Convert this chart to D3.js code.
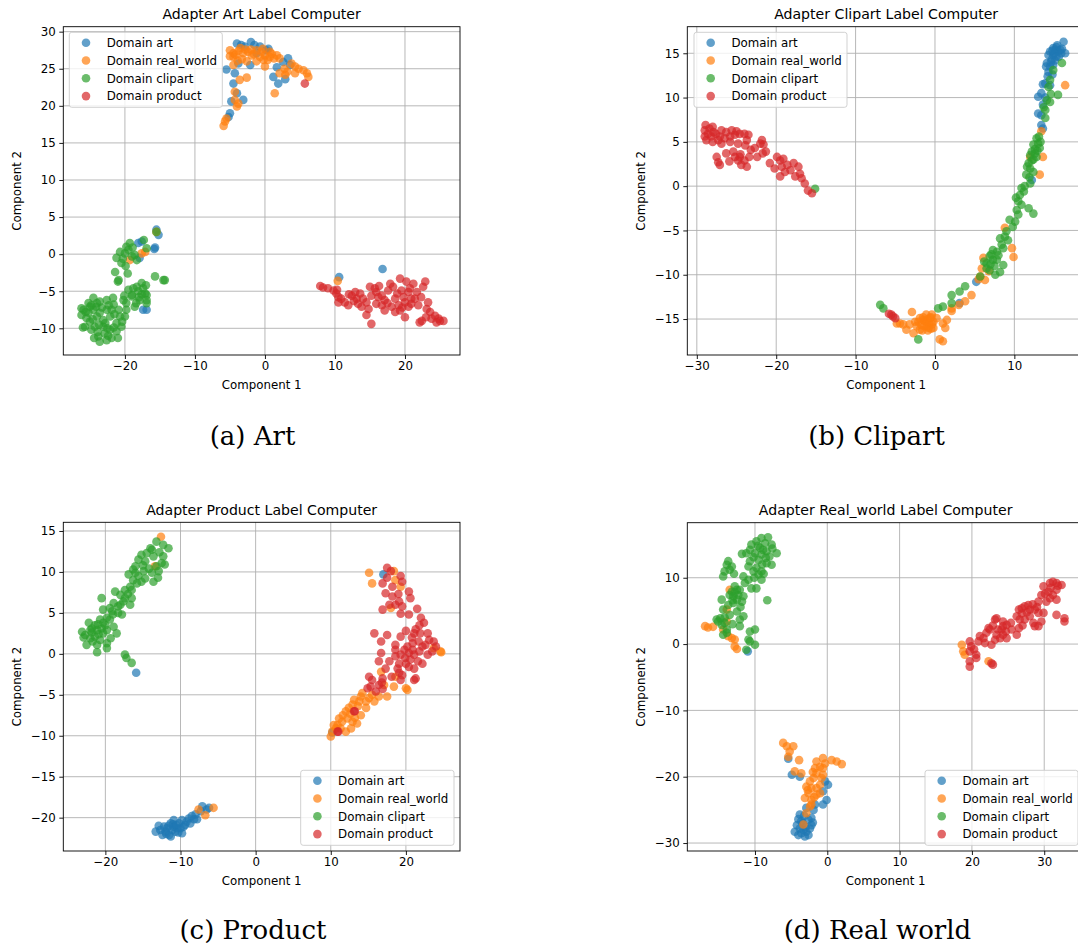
<!DOCTYPE html>
<html><head><meta charset="utf-8">
<script src="https://cdn.jsdelivr.net/npm/d3@7"></script>
<style>body{margin:0;background:#fff}svg{display:block}</style>
</head><body>
<svg id="fig" width="1078" height="949"></svg>
<script>
// ---------- DATA ----------
const domainNames = ["Domain art", "Domain real_world", "Domain clipart", "Domain product"];
const panelTitles = ["Adapter Art Label Computer", "Adapter Clipart Label Computer", "Adapter Product Label Computer", "Adapter Real_world Label Computer"];
const captions = ["(a) Art", "(b) Clipart", "(c) Product", "(d) Real world"];

const xTicksA = [-20, -10, 0, 10, 20];
const yTicksA = [30, 25, 20, 15, 10, 5, 0, -5, -10];
const xTicksB = [-30, -20, -10, 0, 10];
const yTicksB = [15, 10, 5, 0, -5, -10, -15];
const xTicksC = [-20, -10, 0, 10, 20];
const yTicksC = [15, 10, 5, 0, -5, -10, -15, -20];
const xTicksD = [-10, 0, 10, 20, 30];
const yTicksD = [10, 0, -10, -20, -30];

const xLimA = [-28.8, 27.86], yLimA = [-13.6, 30.67];
const xLimB = [-31.2, 18.9], yLimB = [-19.06, 18.0];
const xLimC = [-25.6, 27.2], yLimC = [-24.07, 16.06];
const xLimD = [-19.36, 35.5], yLimD = [-31.2, 18.3];

// Panel (a) Art
const A_art = [[-4.0,28.4],[-2.0,28.6],[-2.9,28.0],[-0.7,28.0],[0.5,27.7],[0.2,27.5],[-1.2,27.1],[-5.5,24.9],[-4.3,24.4],[-4.5,23.0],[-4.0,21.7],[-4.8,20.6],[-3.1,20.8],[-5.0,19.0],[-5.2,18.5],[-2.1,25.5],[-3.8,25.7],[1.2,23.9],[1.9,23.0],[2.9,23.6],[2.6,25.9],[3.6,25.5],[3.3,26.4],[-1.5,28.2],[-3.4,28.2],[1.7,25.2],
 [-15.5,3.3],[-15.2,2.6],[-17.6,1.7],[-18.1,1.5],[-15.7,0.9],[-15.8,0.7],[-17.9,-0.5],[-17.4,-7.5],[-16.9,-7.5],[10.6,-3.1],[16.8,-2.0]];
const A_rw = [[-5.0,27.5],[-4.5,27.1],[-3.8,27.4],[-3.1,27.1],[-2.4,27.3],[-1.9,26.8],[-4.5,26.6],[-3.3,26.3],[-5.0,26.7],[-1.2,27.5],[-0.5,27.3],[0.0,26.8],[0.7,26.6],[1.7,26.8],[2.1,26.4],[-1.2,26.0],[-0.2,26.2],[-2.6,26.0],[-4.5,25.5],[-3.6,23.5],[-2.6,23.8],[-4.3,21.9],[-4.3,20.8],[-3.8,20.3],[-4.0,19.9],[-5.5,18.3],[-5.7,17.9],[-5.9,17.3],[0.0,25.3],[2.1,24.4],[2.9,24.2],[4.3,24.4],[4.8,25.0],[5.5,24.8],[6.0,24.4],[6.2,23.9],[1.4,21.7],[0.7,27.3],[-0.7,26.6],[3.8,25.7],[4.3,25.3],[-3.5,27.8],[1.0,27.0],[-2.0,27.6],
 [-4.2,26.9],[-2.8,27.6],[-1.6,27.0],[0.4,26.2],[1.3,26.4],[-3.9,26.1],[-0.3,27.7],[2.8,25.0],[3.2,24.6],
 [-17.6,0.1],[-17.1,0.3],[-19.3,-0.8],[-15.5,3.0],[10.4,-3.6]];
const A_cl = [[-15.5,3.0],[-19.3,1.5],[-20.7,0.3],[-21.2,-0.5],[-20.0,0.1],[-19.5,0.6],[-19.0,-0.3],[-18.3,-0.8],[-20.5,-1.2],[-21.4,-2.4],[-20.9,-3.5],[-19.8,1.0],[-16.9,0.8],[-17.3,1.9],[-15.7,-3.0],[-14.5,-3.5],[-14.3,-3.5],[-17.6,-3.9],[-18.8,-4.6],[-18.1,-5.0],[-17.1,-5.3],[-19.0,-5.7],[-17.9,-6.2],[-16.9,-6.2],[-20.2,-6.2],[-21.7,-5.9],[-22.6,-6.2],[-23.6,-6.4],[-24.5,-5.9],[-25.2,-6.6],[-25.9,-7.5],[-26.2,-8.2],[-25.2,-7.9],[-24.5,-7.5],[-23.6,-7.9],[-22.6,-7.5],[-22.1,-8.4],[-23.1,-8.9],[-24.0,-8.4],[-25.0,-9.1],[-25.7,-9.8],[-24.8,-10.2],[-23.8,-11.1],[-22.9,-10.7],[-22.1,-10.2],[-21.2,-10.4],[-21.0,-11.3],[-20.5,-9.8],[-20.0,-8.4],[-19.8,-7.5],[-20.9,-7.5],[-21.2,-9.3],[-24.1,-7.1],[-20.7,-8.4],[-21.9,-7.5],[-18.6,-7.1],[-19.8,-6.6],[-18.3,-4.4],[-17.4,-4.6],[-16.9,-5.5],[-19.0,-5.5],[-19.5,-4.8],[-25.0,-7.1],[-26.2,-7.3],[-25.5,-8.6],[-24.3,-9.8],[-23.1,-9.8],[-21.9,-11.3],[-23.6,-11.8],[-22.6,-11.6],[-16.9,-6.6],[-21.0,-3.7],[-18.0,-5.8],[-24.0,-6.6],[-22.8,-9.3],[-26.0,-9.9],[-21.6,-6.8],
 [-24.8,-6.9],[-23.3,-7.2],[-22.3,-6.9],[-25.6,-7.8],[-24.6,-8.8],[-23.7,-9.5],[-22.5,-10.0],[-21.6,-9.9],[-20.4,-9.1],[-21.5,-8.1],[-23.9,-10.5],[-24.4,-11.3],[-22.4,-11.0],[-20.1,-5.6],[-18.4,-6.6],[-17.6,-5.4],[-18.6,-0.1],[-20.3,-0.6],[-19.9,-1.6],[-18.9,0.9],[-19.6,-2.6],[-17.0,-4.2]];
const A_pr = [[5.7,23.0],[7.9,-4.3],[8.3,-4.5],[9.0,-4.6],[9.8,-4.9],[10.2,-5.3],[10.5,-5.8],[10.5,-6.5],[10.9,-6.0],[11.9,-6.9],[12.4,-5.6],[12.9,-5.1],[13.1,-6.0],[13.3,-6.7],[13.6,-5.3],[14.0,-6.0],[14.5,-6.5],[14.8,-7.4],[14.5,-8.2],[15.2,-9.4],[15.2,-5.6],[15.7,-4.6],[15.9,-5.1],[16.2,-5.8],[15.9,-6.7],[16.7,-6.9],[17.1,-6.2],[17.1,-7.6],[17.9,-4.0],[18.3,-4.4],[18.1,-7.1],[18.6,-6.0],[19.1,-6.9],[19.3,-3.3],[19.5,-4.9],[19.3,-7.6],[19.8,-5.8],[20.0,-6.5],[20.0,-8.5],[20.2,-3.7],[20.5,-5.1],[20.7,-4.6],[20.9,-6.0],[20.9,-6.7],[21.4,-6.0],[22.6,-4.4],[22.9,-3.7],[23.1,-7.4],[23.3,-6.5],[23.6,-7.8],[23.8,-8.7],[22.4,-9.0],[22.1,-9.2],[24.3,-8.3],[24.8,-8.7],[25.0,-9.0],[25.5,-9.0],[24.5,-9.2],[20.5,-7.1],[17.6,-4.9],[11.4,-6.5],[15.0,-4.4],[16.7,-5.6],[18.6,-7.8],[21.7,-5.1],
 [12.0,-5.4],[13.8,-7.1],[17.5,-6.6],[18.9,-5.3],[21.9,-6.9],[22.3,-5.8],[19.6,-7.2],[16.3,-4.3],[23.0,-8.5],[12.7,-6.3],[10.3,-4.8],[21.2,-4.0]];

// Panel (b) Clipart
const B_art = [[16.2,16.3],[14.9,15.6],[15.3,15.7],[14.5,15.2],[15.5,15.2],[16.4,15.0],[14.9,14.8],[14.3,14.8],[15.1,14.2],[14.1,13.9],[14.5,13.5],[14.9,13.7],[14.3,12.9],[13.9,11.6],[14.5,11.4],[13.0,10.1],[13.4,10.5],[13.6,9.2],[13.0,8.2],[13.4,8.0],[13.4,6.9],[13.6,6.5],[12.2,0.7],[5.2,-10.8],[3.1,-13.2],[15.8,15.4],[15.0,15.0],[14.7,14.3],[15.6,14.6],[14.0,13.5],[13.9,10.0],[13.6,11.5],[15.2,15.4],[15.9,15.0],[14.6,14.0],
 [15.4,15.9],[14.8,15.3],[16.0,15.5],[15.3,14.6],[14.2,12.4],[14.8,12.6]];
const B_rw = [[16.4,11.4],[13.4,6.2],[13.6,3.3],[13.2,1.3],[12.0,3.3],[8.8,-4.7],[9.7,-7.0],[9.9,-8.0],[6.1,-8.1],[5.9,-9.3],[5.7,-10.2],[6.3,-10.6],[4.6,-12.3],[3.8,-13.0],[3.0,-13.4],[2.1,-13.8],[2.1,-14.1],[1.5,-15.1],[1.0,-15.5],[1.3,-16.0],[0.6,-17.3],[1.0,-17.5],[0.2,-14.9],[-0.2,-15.3],[-0.6,-14.9],[-1.1,-15.3],[-1.5,-15.1],[-1.3,-15.8],[-0.8,-16.0],[-0.4,-15.6],[-1.7,-15.7],[-2.1,-15.3],[-1.9,-16.2],[-2.5,-15.3],[-2.9,-14.2],[-3.2,-15.6],[-2.7,-16.6],[-3.6,-16.2],[-4.0,-15.6],[-4.4,-15.5],[-4.8,-15.5],[-1.1,-14.5],[-0.4,-14.5],[-0.9,-15.0],[-1.0,-15.8],[-0.7,-15.5],[-1.3,-15.2],[-0.5,-16.1],[-1.6,-16.3],[6.8,-9.6],[5.5,-10.5],
 [-0.5,-14.8],[-1.5,-14.8],[-0.9,-16.3],[-1.9,-14.9],[-0.2,-16.0],[-2.3,-15.8]];
const B_cl = [[16.0,13.9],[14.9,13.1],[14.5,12.0],[14.3,11.2],[15.5,10.3],[14.1,9.7],[14.5,9.5],[13.9,8.6],[13.9,7.7],[12.8,5.4],[13.0,4.8],[12.4,4.7],[13.2,4.3],[12.2,3.9],[12.8,3.3],[12.0,3.5],[12.4,3.0],[11.8,2.6],[12.0,2.0],[12.4,1.6],[11.5,1.3],[12.0,0.3],[10.9,-0.2],[11.3,0.0],[10.7,-1.0],[10.5,-1.7],[10.9,-2.1],[10.3,-2.7],[11.8,-2.5],[12.4,-3.1],[10.5,-3.2],[9.4,-3.8],[10.1,-4.0],[9.0,-5.1],[8.8,-5.7],[9.2,-6.1],[8.2,-5.9],[8.4,-6.6],[7.3,-7.2],[7.8,-7.4],[6.9,-7.9],[7.3,-8.3],[6.5,-8.7],[7.8,-8.3],[8.6,-8.9],[6.5,-9.3],[6.9,-9.5],[7.6,-10.0],[5.7,-10.2],[3.8,-11.3],[3.1,-11.9],[2.1,-12.3],[2.1,-13.2],[1.0,-13.6],[0.4,-13.8],[-2.1,-17.3],[-6.9,-13.4],[-6.5,-13.8],[-15.1,-0.3],[13.3,5.0],[12.9,4.0],[12.6,3.7],[11.6,2.2],[11.2,-0.6],[10.2,-1.3],[7.0,-8.8],[7.5,-9.0],[8.0,-7.8],
 [12.6,4.2],[13.1,5.6],[12.2,2.9],[11.9,1.0],[9.8,-4.6],[8.6,-7.0],[7.1,-7.7],[6.2,-8.5],[8.2,-9.7],[13.7,8.9],[14.6,10.4]];
const B_pr = [[-28.9,6.9],[-29.0,6.3],[-28.4,6.5],[-28.0,6.7],[-28.6,5.9],[-29.0,5.6],[-28.2,5.6],[-27.6,5.9],[-26.9,6.3],[-27.1,5.6],[-26.3,6.1],[-25.6,6.3],[-25.8,5.6],[-25.2,5.8],[-24.6,5.9],[-24.0,5.9],[-23.5,5.8],[-28.8,5.2],[-28.0,5.0],[-26.9,4.8],[-25.8,5.0],[-24.8,4.8],[-23.7,5.2],[-21.8,5.2],[-22.0,4.8],[-27.5,3.3],[-27.3,2.7],[-27.1,2.4],[-26.3,3.7],[-25.4,3.9],[-25.2,3.3],[-24.8,2.9],[-24.4,2.4],[-23.7,2.2],[-24.0,2.9],[-23.4,3.3],[-23.2,4.1],[-22.7,4.3],[-21.7,3.7],[-21.3,3.9],[-20.8,2.6],[-19.9,3.3],[-19.5,2.9],[-19.1,3.1],[-19.3,2.2],[-19.5,1.1],[-18.9,1.6],[-18.2,1.8],[-17.8,2.6],[-17.2,2.2],[-17.0,1.4],[-16.8,0.9],[-16.4,0.3],[-16.0,-0.5],[-15.5,-0.8],[-21.6,4.7],[-24.6,3.3],
 [-27.9,6.1],[-26.5,5.4],[-25.0,6.2],[-27.3,5.2],[-23.9,4.6],[-22.4,3.3],[-25.9,2.8],[-24.5,3.6],[-18.6,2.4],[-17.6,1.1],[-20.2,2.0],
 [-5.8,-14.4],[-5.5,-14.5],[-5.0,-14.9],[-5.3,-14.7]];

// Panel (c) Product
const C_art = [[-13.3,-21.7],[-12.2,-21.1],[-12.0,-21.7],[-11.5,-22.1],[-11.3,-20.7],[-10.9,-21.1],[-10.7,-21.7],[-10.2,-20.7],[-10.0,-21.3],[-9.8,-21.9],[-9.6,-21.1],[-11.8,-21.3],[-11.1,-21.5],[-11.3,-22.3],[-10.4,-21.3],[-10.9,-20.3],[-9.4,-20.9],[-8.7,-20.7],[-8.5,-19.8],[-8.0,-19.6],[-7.8,-20.2],[-7.3,-19.2],[-7.1,-18.6],[-6.5,-19.0],[-6.2,-18.8],[-12.7,-21.5],[-12.4,-22.1],[-9.8,-20.3],[-8.2,-20.2],[-11.0,-20.8],[-10.6,-20.9],[-11.6,-21.0],[-10.3,-21.8],[-11.9,-22.0],[-12.9,-21.0],[-9.2,-20.5],[-8.9,-20.1],[-15.9,-2.3],[17.0,9.7],[10.2,-9.6]];
const C_rw = [[-12.6,14.3],[-13.4,10.7],[-7.6,-19.0],[-6.7,-19.7],[-5.6,-18.8],[15.1,9.9],[15.5,8.6],[18.4,10.1],[18.6,9.0],[19.3,8.2],[18.0,5.6],[23.7,0.7],[24.6,0.3],[16.7,-2.2],[18.6,-2.8],[18.4,-4.0],[20.0,-4.2],[20.2,-4.4],[17.1,-3.8],[17.5,-5.2],[16.4,-5.2],[15.5,-5.0],[15.1,-5.4],[14.2,-4.8],[14.0,-5.2],[14.7,-5.8],[13.8,-5.8],[13.1,-5.6],[12.9,-6.2],[12.4,-6.6],[12.0,-7.0],[11.6,-7.5],[11.1,-7.9],[10.9,-8.7],[10.7,-9.1],[10.2,-9.5],[10.0,-10.1],[12.2,-7.9],[12.9,-8.3],[13.5,-8.5],[14.0,-7.5],[14.7,-6.6],[12.7,-9.1],[11.3,-9.1],[10.4,-8.7],[24.7,0.2],
 [13.6,-6.4],[12.6,-7.3],[11.5,-8.3],[13.2,-7.8],[15.8,-5.8],[12.0,-9.5]];
const C_cl = [[-13.2,13.7],[-12.3,13.3],[-11.6,12.9],[-13.8,12.7],[-14.5,12.3],[-15.2,12.1],[-15.6,11.5],[-14.7,11.3],[-13.6,11.9],[-12.3,11.9],[-12.5,11.1],[-12.1,10.9],[-13.2,10.7],[-12.9,10.1],[-13.8,9.9],[-14.9,10.1],[-16.0,10.7],[-16.3,10.3],[-16.9,9.7],[-15.6,9.5],[-14.7,9.2],[-13.6,8.8],[-16.3,9.0],[-15.8,8.6],[-16.7,8.2],[-16.5,7.8],[-17.4,7.8],[-18.7,7.6],[-18.0,7.2],[-17.4,6.8],[-16.5,6.8],[-17.6,6.4],[-16.7,6.0],[-18.9,6.2],[-18.3,5.8],[-19.4,5.6],[-20.5,6.8],[-20.3,5.4],[-19.1,5.2],[-18.3,5.0],[-17.8,4.8],[-19.8,4.4],[-20.7,4.2],[-19.4,4.2],[-20.3,3.8],[-21.4,3.5],[-22.2,3.8],[-21.8,3.1],[-21.1,2.9],[-20.5,3.1],[-19.8,2.9],[-18.9,3.3],[-18.5,2.5],[-23.1,2.7],[-22.7,2.3],[-22.0,1.9],[-21.4,2.1],[-20.7,1.7],[-20.3,2.5],[-22.5,1.1],[-21.1,1.1],[-19.8,1.3],[-19.8,0.7],[-21.1,0.2],[-17.4,-0.1],[-17.2,-0.5],[-16.5,-1.1],
 [-14.0,12.9],[-12.8,12.4],[-15.0,10.8],[-14.2,10.4],[-15.2,8.8],[-17.0,7.3],[-18.0,6.0],[-19.0,4.8],[-21.0,3.6],[-20.0,3.5],[-21.8,2.6],[-22.0,2.9],[-20.9,2.4],[-19.3,1.9],[-21.7,1.5],[-22.9,2.0],[-16.0,9.9],[-13.0,9.3]];
const C_pr = [[17.5,10.5],[18.0,10.1],[16.9,8.6],[17.5,9.3],[19.3,9.5],[19.5,8.8],[17.3,7.4],[18.2,7.0],[19.1,6.4],[18.6,6.0],[19.5,5.8],[20.4,7.6],[20.6,6.8],[17.8,6.0],[16.9,5.4],[19.3,4.9],[20.4,4.8],[21.5,5.5],[22.0,4.4],[22.4,3.8],[21.8,3.5],[21.1,2.5],[21.9,2.5],[22.9,2.5],[23.1,1.7],[23.7,1.5],[24.0,0.9],[22.6,1.1],[21.7,1.5],[20.9,1.3],[20.2,0.9],[19.3,2.1],[18.6,1.1],[15.8,2.5],[16.7,1.5],[17.5,2.3],[16.7,0.1],[16.4,-0.9],[17.3,-1.8],[17.8,-0.9],[18.6,-0.3],[19.3,-0.1],[19.8,0.5],[20.4,0.1],[21.1,-0.1],[21.8,0.3],[22.9,-0.1],[22.2,-1.2],[20.6,-0.7],[20.0,-1.2],[19.1,-1.2],[18.9,-1.8],[20.4,-1.6],[21.1,-1.8],[21.3,-3.0],[21.1,-3.2],[19.5,-2.6],[19.3,-3.2],[15.1,-2.8],[15.5,-3.2],[16.9,-3.0],[15.3,-4.0],[16.0,-4.6],[16.4,-3.8],[16.9,-4.3],[14.9,-4.2],[13.1,-7.0],[10.9,-9.5],[18.6,0.5],[19.1,-2.3],[11.0,-9.5],[13.2,-7.0],
 [18.2,8.2],[19.0,7.3],[21.3,3.0],[22.2,0.9],[20.9,0.5],[21.6,-0.9],[19.9,-0.5],[20.8,2.0],[18.1,-2.8],[16.8,-3.5],[20.0,2.8],[23.5,0.3]];

// Panel (d) Real_world
const D_art = [[-11.0,-1.1],[-4.9,-19.7],[-3.8,-20.0],[-0.3,-20.7],[0.1,-21.2],[-0.6,-22.2],[-0.1,-23.5],[-0.6,-24.2],[-1.7,-24.2],[-1.9,-25.0],[-2.9,-24.7],[-3.8,-25.7],[-3.6,-26.7],[-2.6,-26.5],[-2.2,-26.2],[-4.2,-27.3],[-4.5,-28.3],[-4.0,-28.8],[-3.6,-28.5],[-3.3,-28.0],[-2.9,-28.3],[-2.4,-27.8],[-2.2,-27.3],[-3.1,-29.0],[-3.8,-27.8],[-2.6,-28.8],[-5.4,-17.3],
 [-3.4,-27.0],[-3.0,-27.6],[-2.0,-26.9],[-4.0,-26.4],[-3.2,-25.9]];
const D_rw = [[-16.9,2.7],[-16.5,2.5],[-15.8,2.6],[-13.5,8.2],[-13.9,5.2],[-14.4,2.2],[-13.7,1.2],[-13.2,0.9],[-12.8,0.7],[-12.8,-0.35],[-12.5,-0.75],[-13.9,3.4],
 [-6.1,-14.9],[-5.6,-15.4],[-4.7,-15.4],[-5.2,-16.2],[-5.4,-17.0],[-3.9,-17.5],[-1.5,-17.7],[-0.6,-17.2],[0.6,-17.5],[1.3,-17.7],[2.0,-18.1],[-1.7,-18.7],[-1.0,-18.5],[-0.6,-18.7],[-1.5,-19.5],[-4.5,-19.2],[-3.6,-19.5],[-0.6,-19.7],[-2.4,-20.7],[-2.9,-21.5],[-2.2,-21.7],[-1.5,-21.7],[-1.0,-21.2],[-2.6,-22.5],[-3.1,-23.2],[-2.2,-23.5],[-1.5,-22.7],[-1.0,-22.5],[-2.2,-24.2],[-2.4,-24.5],[-2.9,-25.5],[-3.3,-27.2],[-0.8,-20.2],
 [-1.9,-20.2],[-2.7,-22.0],[-1.8,-23.1],[-0.3,-18.0],[-2.0,-19.3],
 [18.6,-0.1],[18.8,-1.1],[19.0,-1.6],[22.3,-2.6]];
const D_cl = [[-9.1,16.0],[-8.2,16.1],[-9.8,15.5],[-8.6,15.2],[-7.7,15.0],[-10.5,15.0],[-9.3,14.5],[-10.7,14.2],[-10.0,13.7],[-8.4,14.0],[-7.0,13.7],[-11.8,13.6],[-11.2,13.7],[-9.1,13.5],[-8.0,13.2],[-9.5,12.7],[-10.7,12.5],[-8.4,12.2],[-7.7,11.96],[-13.7,12.5],[-13.9,11.96],[-13.2,11.7],[-14.2,10.96],[-13.5,11.2],[-10.9,11.7],[-9.8,11.5],[-9.1,10.96],[-10.2,10.96],[-9.5,10.5],[-14.4,10.2],[-11.6,10.2],[-10.9,9.7],[-9.1,9.7],[-11.4,9.2],[-10.5,8.4],[-9.8,8.4],[-12.5,8.2],[-12.8,8.7],[-13.2,7.9],[-12.1,8.2],[-12.3,7.4],[-11.6,7.2],[-13.0,7.2],[-13.5,7.4],[-14.6,6.7],[-11.8,6.4],[-12.5,6.7],[-13.7,5.9],[-13.0,6.2],[-8.3,6.6],[-14.4,5.2],[-12.5,4.9],[-11.6,4.2],[-12.1,3.7],[-14.8,3.9],[-15.1,3.4],[-15.3,3.7],[-14.6,2.9],[-14.2,3.2],[-13.9,2.2],[-12.1,2.7],[-10.7,1.9],[-10.0,2.2],[-13.9,1.7],[-14.4,1.4],[-10.9,0.7],[-10.7,0.4],[-10.0,-0.1],[-11.2,-0.85],
 [-9.6,14.8],[-8.9,14.2],[-10.2,13.1],[-9.0,12.0],[-8.8,10.6],[-10.1,10.0],[-12.8,7.8],[-13.1,6.6],[-12.0,5.6],[-13.5,4.4],[-14.2,4.0],[-13.1,3.0],[-12.9,10.6],[-7.6,14.4],[-8.5,13.0]];
const D_pr = [[19.7,0.4],[19.9,-0.35],[19.7,-1.1],[19.7,-2.6],[19.7,-3.4],[20.6,-1.6],[20.6,-2.1],[20.9,0.4],[21.6,0.9],[22.0,1.7],[22.7,-0.1],[22.7,-2.9],[22.9,-3.1],[23.2,0.65],[23.4,1.4],[23.6,2.2],[22.3,2.4],[23.2,3.7],[23.4,3.9],[24.3,3.4],[24.8,2.9],[24.1,2.2],[23.9,0.9],[24.8,0.9],[24.3,1.4],[26.2,1.4],[26.5,2.4],[26.6,3.7],[26.5,5.2],[26.9,5.4],[27.3,5.7],[28.0,5.2],[28.0,4.2],[27.3,3.7],[26.2,4.2],[28.7,5.2],[28.7,2.7],[28.5,3.2],[29.2,2.7],[29.6,3.4],[29.9,4.7],[29.2,6.4],[29.6,7.4],[29.9,8.7],[30.6,7.9],[30.8,9.2],[31.2,9.4],[31.7,9.2],[32.4,8.9],[31.7,8.2],[31.2,7.4],[30.8,6.9],[31.7,6.7],[30.3,6.4],[31.7,4.4],[32.8,3.9],[32.8,3.4],[29.2,4.7],[27.8,5.9],[25.5,2.2],[22.5,2.2],[21.1,1.2],[21.8,0.15],[24.3,2.7],
 [25.4,3.2],[26.9,4.6],[27.6,4.8],[28.4,6.0],[30.1,7.6],[30.9,8.5],[31.9,8.8],[29.0,5.6],[22.9,2.8],[24.7,1.9],[20.3,-0.8],[27.0,2.8]];

// ---------- STYLE / LAYOUT ----------
const colors = ["#1f77b4", "#ff7f0e", "#2ca02c", "#d62728"];
const FONT = "DejaVu Sans, sans-serif";
const panels = [
  {title: panelTitles[0], caption: captions[0], series: [A_art, A_rw, A_cl, A_pr], xLim: xLimA, yLim: yLimA, xTicks: xTicksA, yTicks: yTicksA,
   box: {l: 63.3, r: 460, t: 26.7, b: 355}, legend: {x: 69.3, y: 32.3, w: 153, h: 75}, cap: {x: 252.5, y: 445}},
  {title: panelTitles[1], caption: captions[1], series: [B_art, B_rw, B_cl, B_pr], xLim: xLimB, yLim: yLimB, xTicks: xTicksB, yTicks: yTicksB,
   box: {l: 687.3, r: 1085, t: 26.7, b: 355}, legend: {x: 694, y: 32.3, w: 153, h: 75}, cap: {x: 876.5, y: 445}},
  {title: panelTitles[2], caption: captions[2], series: [C_art, C_rw, C_cl, C_pr], xLim: xLimC, yLim: yLimC, xTicks: xTicksC, yTicks: yTicksC,
   box: {l: 63.3, r: 460, t: 522.3, b: 851}, legend: {x: 300.7, y: 770.3, w: 153.3, h: 75}, cap: {x: 253, y: 939}},
  {title: panelTitles[3], caption: captions[3], series: [D_art, D_rw, D_cl, D_pr], xLim: xLimD, yLim: yLimD, xTicks: xTicksD, yTicks: yTicksD,
   box: {l: 687.3, r: 1084, t: 522.7, b: 851}, legend: {x: 925, y: 770.3, w: 153, h: 75}, cap: {x: 877.5, y: 939}}
];

const svg = d3.select("#fig");
svg.append("rect").attr("width", 1078).attr("height", 949).attr("fill", "#fff");
const fmt = d3.format("d");

panels.forEach((p, i) => {
  const g = svg.append("g");
  const x = d3.scaleLinear().domain(p.xLim).range([p.box.l, p.box.r]);
  const y = d3.scaleLinear().domain(p.yLim).range([p.box.b, p.box.t]);
  const cid = "clip" + i;
  svg.append("clipPath").attr("id", cid).append("rect")
    .attr("x", p.box.l).attr("y", p.box.t).attr("width", p.box.r - p.box.l).attr("height", p.box.b - p.box.t);

  // grid
  const grid = g.append("g").attr("stroke", "#b0b0b0").attr("stroke-width", 0.9);
  grid.selectAll(".gx").data(p.xTicks).join("line")
    .attr("x1", d => x(d)).attr("x2", d => x(d)).attr("y1", p.box.t).attr("y2", p.box.b);
  grid.selectAll(".gy").data(p.yTicks).join("line")
    .attr("y1", d => y(d)).attr("y2", d => y(d)).attr("x1", p.box.l).attr("x2", p.box.r);

  // points
  const pts = g.append("g").attr("clip-path", `url(#${cid})`);
  p.series.forEach((s, k) => {
    pts.append("g").selectAll("circle").data(s).join("circle")
      .attr("cx", d => x(d[0])).attr("cy", d => y(d[1])).attr("r", 4.3)
      .attr("fill", colors[k]).attr("fill-opacity", 0.7);
  });

  // axes
  const xa = g.append("g").attr("transform", `translate(0,${p.box.b})`)
    .call(d3.axisBottom(x).tickValues(p.xTicks).tickFormat(fmt).tickSize(4).tickPadding(3));
  const ya = g.append("g").attr("transform", `translate(${p.box.l},0)`)
    .call(d3.axisLeft(y).tickValues(p.yTicks).tickFormat(fmt).tickSize(4).tickPadding(3.5));
  [xa, ya].forEach(a => {
    a.select(".domain").remove();
    a.selectAll("text").attr("font-family", FONT).attr("font-size", 11.8).attr("fill", "#000");
    a.selectAll("line").attr("stroke", "#000").attr("stroke-width", 0.9);
  });

  // frame
  g.append("rect").attr("x", p.box.l).attr("y", p.box.t)
    .attr("width", p.box.r - p.box.l).attr("height", p.box.b - p.box.t)
    .attr("fill", "none").attr("stroke", "#000").attr("stroke-width", 0.9);

  const cx = (p.box.l + p.box.r) / 2;
  g.append("text").attr("x", cx).attr("y", p.box.t - 7.5).attr("text-anchor", "middle")
    .attr("font-family", FONT).attr("font-size", 14.1).text(p.title);
  g.append("text").attr("x", cx).attr("y", p.box.b + 34).attr("text-anchor", "middle")
    .attr("font-family", FONT).attr("font-size", 11.8).text("Component 1");
  const ly = (p.box.t + p.box.b) / 2;
  g.append("text").attr("transform", `translate(${p.box.l - 42},${ly}) rotate(-90)`)
    .attr("text-anchor", "middle").attr("font-family", FONT).attr("font-size", 11.8).text("Component 2");

  // legend
  const L = p.legend;
  const lg = g.append("g");
  lg.append("rect").attr("x", L.x).attr("y", L.y).attr("width", L.w).attr("height", L.h).attr("rx", 2.5)
    .attr("fill", "#fff").attr("fill-opacity", 0.8).attr("stroke", "#cccccc").attr("stroke-width", 0.9);
  domainNames.forEach((name, k) => {
    const ry = L.y + 10.4 + k * 17.8;
    lg.append("circle").attr("cx", L.x + 16.7).attr("cy", ry).attr("r", 4.3)
      .attr("fill", colors[k]).attr("fill-opacity", 0.7);
    lg.append("text").attr("x", L.x + 37.4).attr("y", ry + 4.2)
      .attr("font-family", FONT).attr("font-size", 11.8).text(name);
  });

  // caption
  svg.append("text").attr("x", p.cap.x).attr("y", p.cap.y).attr("text-anchor", "middle")
    .attr("font-family", "DejaVu Serif, serif").attr("font-size", 26).text(p.caption);
});
</script>
</body></html>
